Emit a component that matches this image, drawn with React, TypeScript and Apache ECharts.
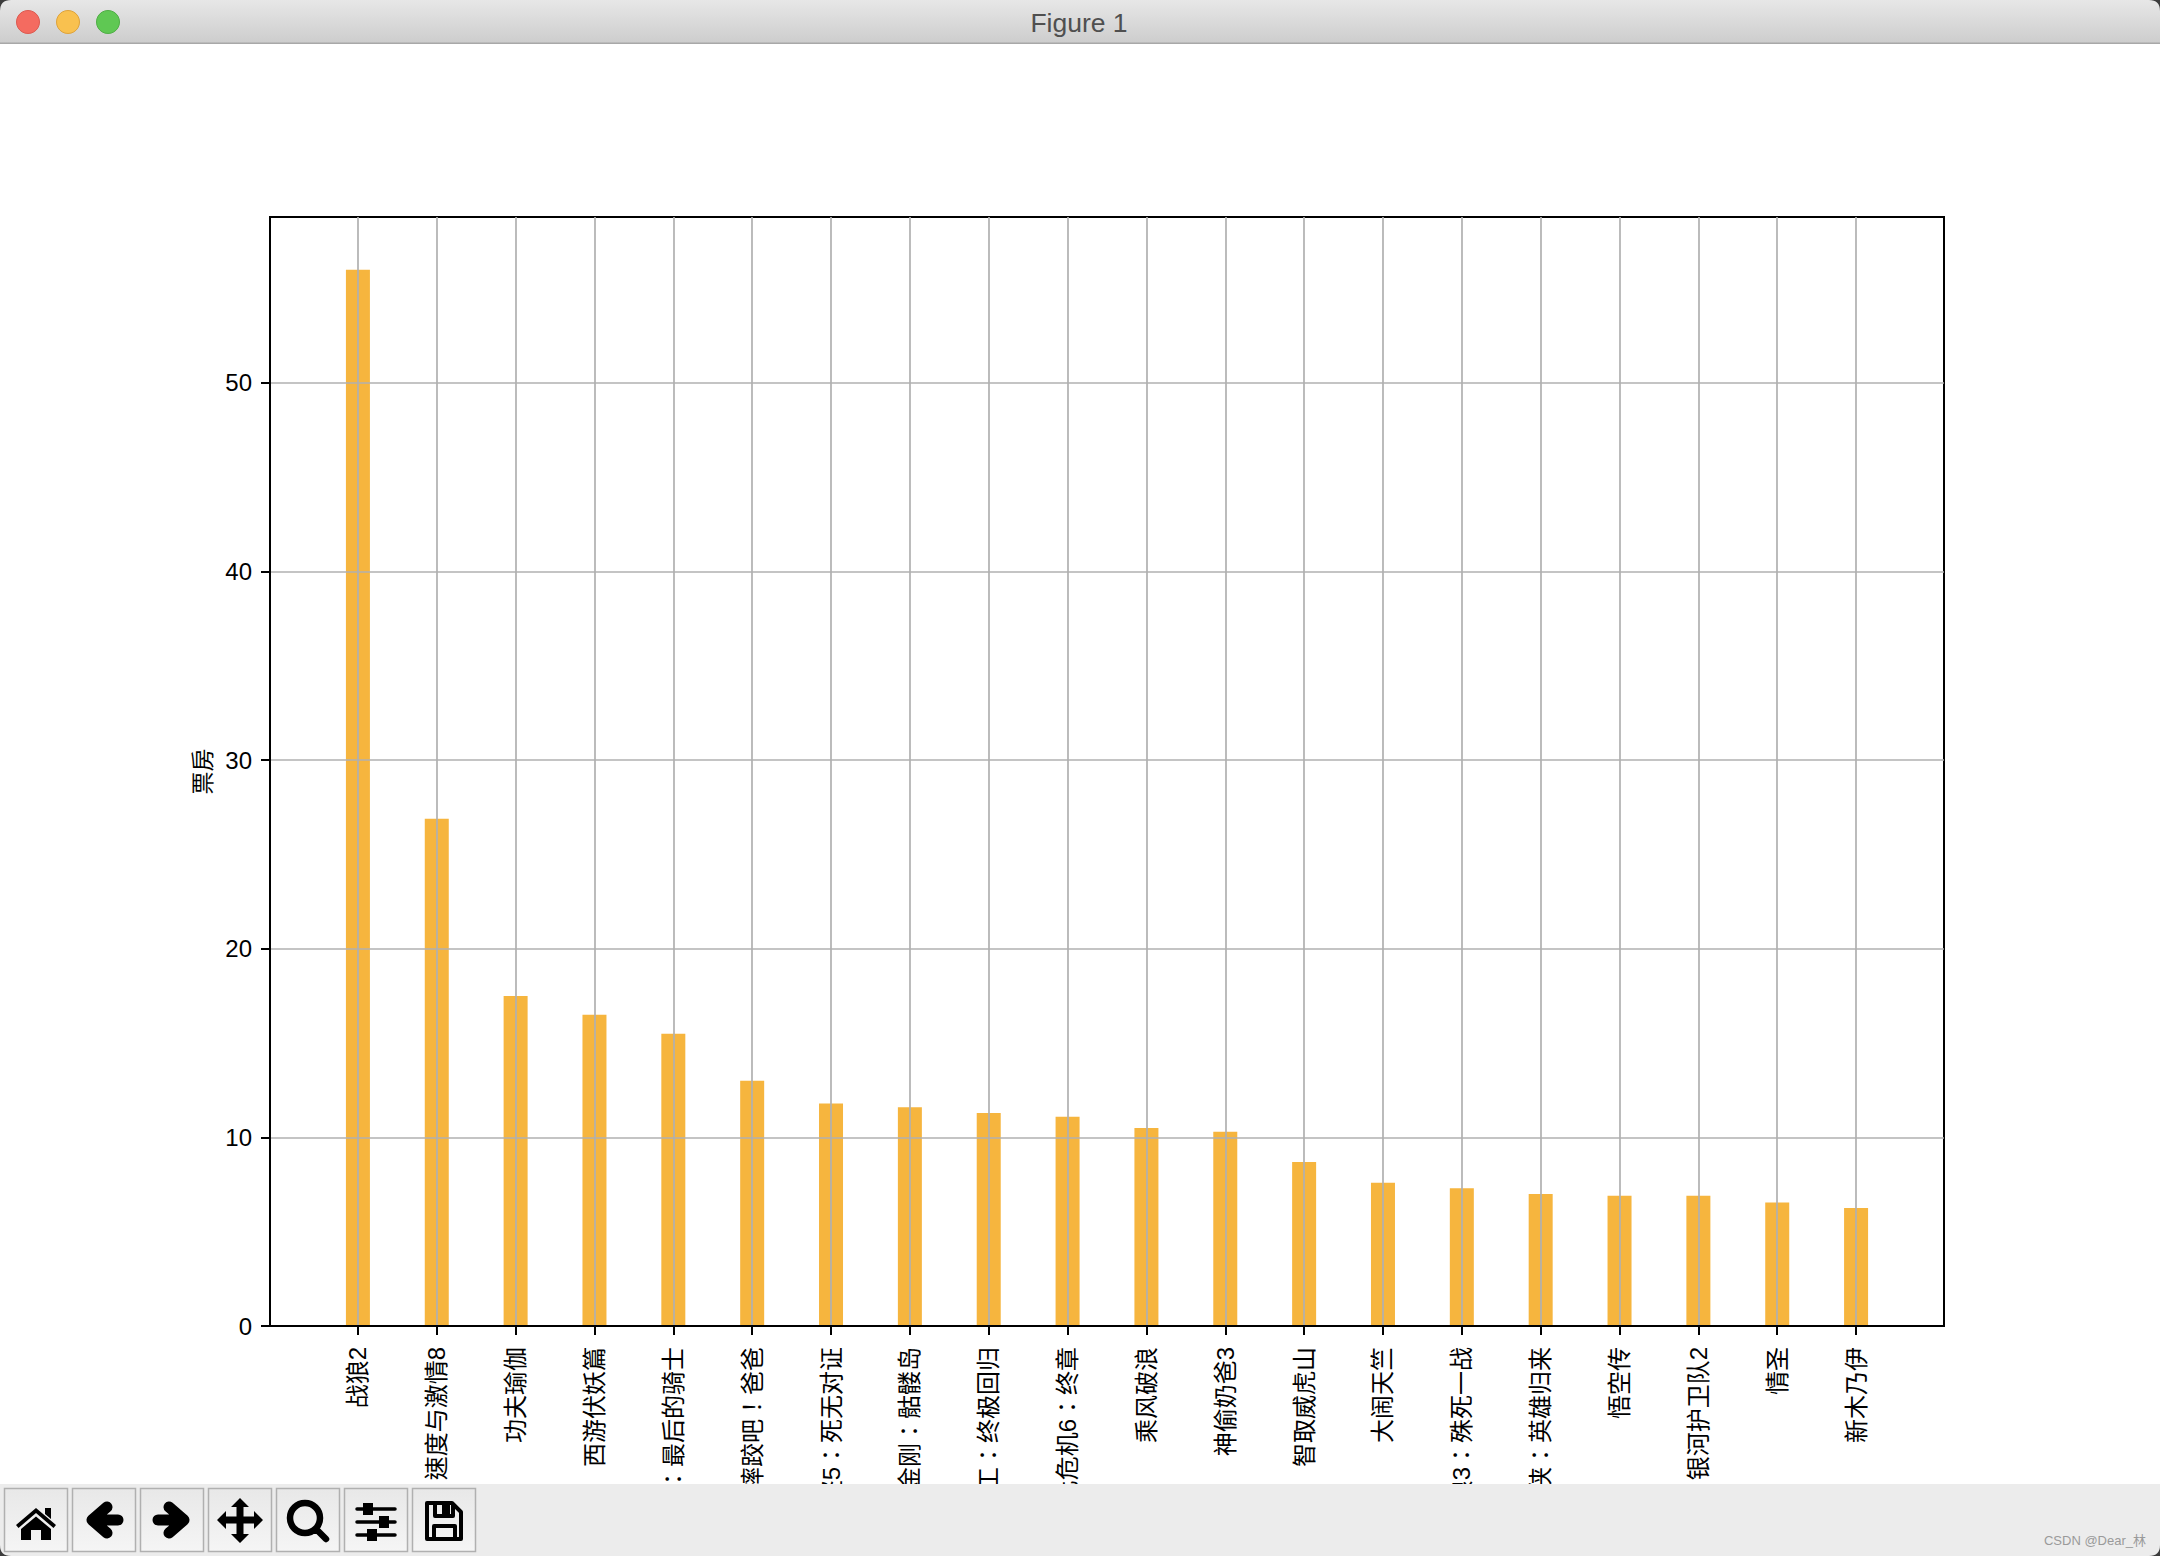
import React, { useEffect, useRef } from "react";
import * as echarts from "echarts";

const categories = [
  "战狼2", "速度与激情8", "功夫瑜伽", "西游伏妖篇", "变形金刚5：最后的骑士",
  "摔跤吧！爸爸", "加勒比海盗5：死无对证", "金刚：骷髅岛", "极限特工：终极回归", "生化危机6：终章",
  "乘风破浪", "神偷奶爸3", "智取威虎山", "大闹天竺", "金刚狼3：殊死一战",
  "蜘蛛侠：英雄归来", "悟空传", "银河护卫队2", "情圣", "新木乃伊",
];
const boxOffice = [56.0, 26.9, 17.5, 16.5, 15.5, 13.0, 11.8, 11.6, 11.3, 11.1, 10.5, 10.3, 8.7, 7.6, 7.3, 7.0, 6.9, 6.9, 6.55, 6.25];
const tickPositions = categories.map((_, i) => i);
const yTicks = [0, 10, 20, 30, 40, 50];
const yName = "票房";
const windowTitle = "Figure 1";
const watermark = "CSDN @Dear_林";

const FONT = "'Liberation Sans', 'Noto Sans CJK TC', sans-serif";
const TOP = 100;

const icons: Record<string, string> = {
  iconHome: "M12 37 L32 20 L52 37 L49.5 40 L32 25 L14.5 40 Z M41 20 H47 V31 L41 26 Z M17 41 L32 28.5 L47 41 V52 H37 V42 H27 V52 H17 Z",
  iconMove: "M32 10 L41 19 L35.5 19 L35.5 28.5 L46 28.5 L46 23 L55 32 L46 41 L46 35.5 L35.5 35.5 L35.5 46 L41 46 L32 55 L23 46 L28.5 46 L28.5 35.5 L18 35.5 L18 41 L9 32 L18 23 L18 28.5 L28.5 28.5 L28.5 19 L23 19 Z",
  iconBack: "M35 19 L20 32 L35 45 M24 32 L46 32",
  iconForward: "M29 19 L44 32 L29 45 M40 32 L18 32",
  iconZoom: "M44 30 A15 15 0 1 1 14 30 A15 15 0 1 1 44 30 Z M40 41 L50 51",
  iconSliderLines: "M13 21 H51 M13 34 H51 M13 47 H51",
  iconSliderKnobs: "M19 15 H29 V27 H19 Z M35 28 H45 V40 H35 Z M23 41 H33 V53 H23 Z",
  iconSaveLine: "M15 15 H40 L49 24 V51 H15 Z M23 16 V28 H41 V17 M22 51 V38 H43 V51",
  iconSaveFill: "M30 16 H38 V28 H30 Z",
  cornerTL: "M0 0 H11 Q0 0 0 11 Z",
  cornerTR: "M2160 0 H2149 Q2160 0 2160 11 Z",
  cornerBL: "M0 1556 H11 Q0 1556 0 1545 Z",
  cornerBR: "M2160 1556 H2149 Q2160 1556 2160 1545 Z",
};
Object.entries(icons).forEach(([name, d]) => {
  echarts.graphic.registerShape(name, echarts.graphic.extendPath(d as any, {}) as any);
});

const buttonXs = [4, 72, 140, 208, 276, 344, 412];
const vGrad = (a: string, b: string) => ({
  type: "linear", x: 0, y: 0, x2: 0, y2: 1,
  colorStops: [{ offset: 0, color: a }, { offset: 1, color: b }],
});

function chrome(): any[] {
  const els: any[] = [];
  const add = (el: any) => els.push({ silent: true, z: TOP, ...el });
  add({ type: "rect", shape: { x: 0, y: 0, width: 2160, height: 43 }, style: { fill: vGrad("#e7e7e7", "#cdcdcd") } });
  add({ type: "rect", shape: { x: 0, y: 42.5, width: 2160, height: 1.5 }, style: { fill: "#a8a8a8" } });
  [
    [28, "#f46b60", "#dd5a50"],
    [68, "#f9c14f", "#dfa33a"],
    [108, "#5fc853", "#4fae45"],
  ].forEach(([cx, fill, stroke]) => {
    add({ type: "circle", shape: { cx, cy: 22, r: 11.5 }, style: { fill, stroke, lineWidth: 1 } });
  });
  add({
    type: "text", x: 1079, y: 23,
    style: { text: windowTitle, fill: "#4f4f4f", font: `26.5px 'Liberation Sans', sans-serif`, align: "center", verticalAlign: "middle" },
  });
  add({ type: "rect", shape: { x: 0, y: 1484, width: 2160, height: 72 }, style: { fill: "#ececec" } });
  buttonXs.forEach((x) => {
    add({
      type: "rect", shape: { x: x + 0.5, y: 1488.5, width: 63, height: 63 },
      style: { fill: vGrad("#e8e8e8", "#f5f5f5"), stroke: "#b0b0b0", lineWidth: 1.5 },
    });
  });
  const Y = 1488;
  const fill = { fill: "#000" };
  const line = (w: number) => ({ fill: "none", stroke: "#000", lineWidth: w, lineCap: "round", lineJoin: "round" });
  add({ type: "iconHome", x: buttonXs[0], y: Y, style: fill });
  add({ type: "iconBack", x: buttonXs[1], y: Y, style: line(11) });
  add({ type: "iconForward", x: buttonXs[2], y: Y, style: line(11) });
  add({ type: "iconMove", x: buttonXs[3], y: Y, style: fill });
  add({ type: "iconZoom", x: buttonXs[4], y: Y, style: line(6.5) });
  add({ type: "iconSliderLines", x: buttonXs[5], y: Y, style: line(3.5) });
  add({ type: "iconSliderKnobs", x: buttonXs[5], y: Y, style: fill });
  add({ type: "iconSaveLine", x: buttonXs[6], y: Y, style: line(4) });
  add({ type: "iconSaveFill", x: buttonXs[6], y: Y, style: fill });
  ["cornerTL", "cornerTR", "cornerBL", "cornerBR"].forEach((type) => add({ type, style: { fill: "#3c3c3c" } }));
  add({
    type: "text", x: 2146, y: 1540,
    style: { text: watermark, fill: "#9a9a9a", font: `13px 'Liberation Sans', 'Noto Sans CJK SC', sans-serif`, align: "right", verticalAlign: "middle" },
  });
  return els;
}

export default function App() {
  const ref = useRef<HTMLDivElement>(null);
  useEffect(() => {
    const chart = echarts.init(ref.current!, undefined, { renderer: "svg" });
    chart.setOption({
      animation: false,
      backgroundColor: "#ffffff",
      grid: {
        left: 270, top: 217, width: 1674, height: 1109,
        show: true, borderColor: "#000", borderWidth: 2,
        containLabel: false, outerBoundsMode: "none",
      },
      xAxis: {
        type: "value", min: -1.115, max: 20.115, z: 3,
        axisLine: { show: true, onZero: false, lineStyle: { color: "#000", width: 2 } },
        axisTick: { show: true, customValues: tickPositions, length: 9, lineStyle: { color: "#000", width: 2 } },
        axisLabel: {
          show: true, customValues: tickPositions, rotate: 90, margin: 21,
          fontSize: 24, fontFamily: FONT, color: "#000",
          formatter: (v: number) => categories[Math.round(v)],
        },
        splitLine: { show: true, lineStyle: { color: "#b0b0b0", width: 1.7 } },
      },
      yAxis: {
        type: "value", min: 0, max: 58.8, z: 3,
        name: yName, nameLocation: "middle", nameGap: 37,
        nameTextStyle: { fontSize: 23, fontFamily: FONT, color: "#000" },
        axisLine: { show: true, onZero: false, lineStyle: { color: "#000", width: 2 } },
        axisTick: { show: true, customValues: yTicks, length: 9, lineStyle: { color: "#000", width: 2 } },
        axisLabel: { show: true, customValues: yTicks, margin: 18, fontSize: 24, fontFamily: FONT, color: "#000" },
        splitLine: { show: true, lineStyle: { color: "#b0b0b0", width: 1.7 } },
      },
      series: [{
        type: "bar",
        barWidth: 24,
        itemStyle: { color: "#f6b53e" },
        data: boxOffice.map((v, i) => [i, v]),
      }],
      graphic: { elements: chrome() },
    });
    return () => chart.dispose();
  }, []);
  return <div ref={ref} style={{ position: "absolute", left: 0, top: 0, width: 2160, height: 1556 }} />;
}
